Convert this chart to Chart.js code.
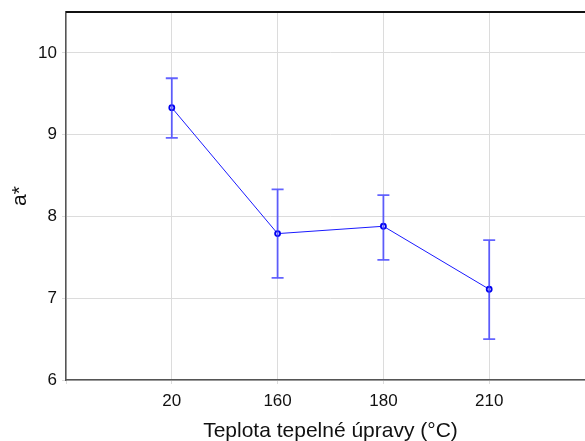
<!DOCTYPE html>
<html>
<head>
<meta charset="utf-8">
<script src="https://cdn.jsdelivr.net/npm/chart.js@4/dist/chart.umd.min.js"></script>
<style>
  body { margin: 0; overflow: hidden; background: #fff; }
  #wrap { width: 602px; height: 441px; }
</style>
</head>
<body>
<div id="wrap"><canvas id="chart" width="602" height="441"></canvas></div>
<script>
// temperature categories and a* means with error limits
var xLabels = ['20', '160', '180', '210'];
var means   = [9.33, 7.79, 7.88, 7.11];
var upper   = [9.69, 8.33, 8.26, 7.71];
var lower   = [8.96, 7.25, 7.47, 6.50];
var yTicks  = [6, 7, 8, 9, 10];

var points = means.map(function(v, i){ return { x: i + 1, y: v }; });

// error bars drawn from upper/lower through the scales
var errorBars = {
    id: 'errorBars',
    afterDatasetsDraw: function(chart) {
        var ctx = chart.ctx;
        var xs = chart.scales.x, ys = chart.scales.y;
        ctx.save();
        ctx.strokeStyle = 'rgba(60,60,255,0.8)';
        ctx.lineWidth = 1.8;
        for (var i = 0; i < means.length; i++) {
            var px = xs.getPixelForValue(i + 1);
            var top = ys.getPixelForValue(upper[i]);
            var bot = ys.getPixelForValue(lower[i]);
            ctx.beginPath();
            ctx.moveTo(px, top); ctx.lineTo(px, bot);
            ctx.moveTo(px - 6, top); ctx.lineTo(px + 6, top);
            ctx.moveTo(px - 6, bot); ctx.lineTo(px + 6, bot);
            ctx.stroke();
        }
        ctx.restore();
    }
};

// top frame line
var topBorder = {
    id: 'topBorder',
    afterDraw: function(chart) {
        var a = chart.chartArea, ctx = chart.ctx;
        ctx.save();
        ctx.strokeStyle = '#111';
        ctx.lineWidth = 2;
        ctx.beginPath();
        ctx.moveTo(a.left, a.top); ctx.lineTo(a.right, a.top);
        ctx.stroke();
        ctx.restore();
    }
};

var ctx = document.getElementById('chart').getContext('2d');
var chart = new Chart(ctx, {
    type: 'line',
    data: {
        datasets: [{
            data: points,
            borderColor: '#1a1aff',
            borderWidth: 1,
            pointRadius: 2.5,
            pointBorderWidth: 1.8,
            pointBackgroundColor: '#fff',
            pointBorderColor: '#0000ee',
            fill: false,
            tension: 0
        }]
    },
    options: {
        responsive: false,
        animation: false,
        layout: { padding: { top: 12, left: 0, right: 0, bottom: 0 } },
        plugins: { legend: { display: false }, tooltip: { enabled: false } },
        scales: {
            x: {
                type: 'linear',
                min: 0, max: 5,
                afterBuildTicks: function(axis) {
                    axis.ticks = [0, 1, 2, 3, 4, 5].map(function(v){ return { value: v }; });
                },
                afterFit: function(axis) { axis.height = 61; },
                ticks: {
                    color: '#111',
                    font: { family: 'Liberation Sans', size: 17 },
                    padding: 7,
                    maxRotation: 0,
                    callback: function(v) { return xLabels[v - 1] || ''; }
                },
                grid: { color: '#dcdcdc', lineWidth: 1, tickLength: 4 },
                border: { color: '#555', width: 1.5 },
                title: {
                    display: true,
                    text: 'Teplota tepelné úpravy (°C)',
                    color: '#111',
                    font: { family: 'Liberation Sans', size: 21, lineHeight: 0.9 },
                    padding: { top: 0, bottom: 0 }
                }
            },
            y: {
                type: 'linear',
                min: 6, max: 10.5,
                afterBuildTicks: function(axis) {
                    axis.ticks = yTicks.map(function(v){ return { value: v }; });
                },
                afterFit: function(axis) {
                    axis.width = 66;
                    axis.paddingTop = 0;
                    axis.paddingBottom = 0;
                },
                ticks: {
                    color: '#111',
                    font: { family: 'Liberation Sans', size: 17 },
                    padding: 5
                },
                grid: { color: '#dcdcdc', lineWidth: 1, tickLength: 4 },
                border: { color: '#555', width: 1.5 },
                title: {
                    display: true,
                    text: 'a*',
                    color: '#111',
                    font: { family: 'Liberation Sans', size: 21, lineHeight: 1.6 },
                    padding: 3
                }
            }
        }
    },
    plugins: [topBorder, errorBars]
});
</script>
</body>
</html>
